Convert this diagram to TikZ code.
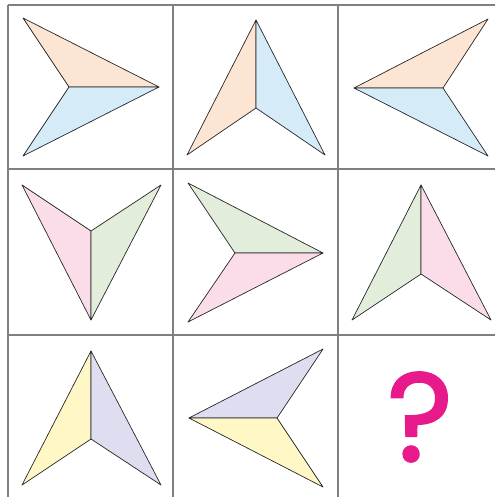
\documentclass[tikz,border=0pt]{standalone}
\usepackage{fontspec}
\newfontfamily\qfont[FakeBold=1.6]{Poppins}
\usetikzlibrary{calc}
\definecolor{peach}{HTML}{FDE5D3}
\definecolor{skyb}{HTML}{D5EBF8}
\definecolor{rose}{HTML}{FBDDE9}
\definecolor{mint}{HTML}{E2EEDB}
\definecolor{lemon}{HTML}{FFF8C6}
\definecolor{lilac}{HTML}{DEDEF0}
\definecolor{qpink}{HTML}{E8198B}
\tikzset{
  gridline/.style={draw=black!50, line width=1.6pt},
  half/.style={draw=black!85, line width=.7pt, line join=round},
}

\begin{document}
\begin{tikzpicture}[x=1pt,y=-1pt]
\useasboundingbox (0,0) rectangle (495,497);
% grid
\draw[gridline](8,5)--(495,5);
\draw[gridline](8,169)--(495,169);
\draw[gridline](8,335)--(495,335);
\draw[gridline](8,5)--(8,497);
\draw[gridline](173,5)--(173,497);
\draw[gridline](338,5)--(338,497);
% row 1
\coordinate (t1) at (159,87);
\coordinate (n1) at (69,87);
\coordinate (u1) at (23,18);
\coordinate (d1) at (23,156);
\filldraw[half,fill=peach](t1)--(n1)--(u1)--cycle;
\filldraw[half,fill=skyb](t1)--(n1)--(d1)--cycle;
\coordinate (t2) at (256,20);
\coordinate (n2) at (256,108);
\coordinate (l2) at (187,155);
\coordinate (r2) at (325,155);
\filldraw[half,fill=peach](t2)--(n2)--(l2)--cycle;
\filldraw[half,fill=skyb](t2)--(n2)--(r2)--cycle;
\coordinate (t3) at (354,88);
\coordinate (n3) at (443,88);
\coordinate (u3) at (488,19);
\coordinate (d3) at (488,156);
\filldraw[half,fill=peach](t3)--(n3)--(u3)--cycle;
\filldraw[half,fill=skyb](t3)--(n3)--(d3)--cycle;
% row 2
\coordinate (t4) at (91,320);
\coordinate (n4) at (91,231);
\coordinate (l4) at (22,185);
\coordinate (r4) at (161,185);
\filldraw[half,fill=rose](t4)--(n4)--(l4)--cycle;
\filldraw[half,fill=mint](t4)--(n4)--(r4)--cycle;
\coordinate (t5) at (323,253);
\coordinate (n5) at (235,253);
\coordinate (u5) at (188,183);
\coordinate (d5) at (188,322);
\filldraw[half,fill=mint](t5)--(n5)--(u5)--cycle;
\filldraw[half,fill=rose](t5)--(n5)--(d5)--cycle;
\coordinate (t6) at (421,185);
\coordinate (n6) at (421,274);
\coordinate (l6) at (352,320);
\coordinate (r6) at (491,320);
\filldraw[half,fill=mint](t6)--(n6)--(l6)--cycle;
\filldraw[half,fill=rose](t6)--(n6)--(r6)--cycle;
% row 3
\coordinate (t7) at (91,351);
\coordinate (n7) at (91,439);
\coordinate (l7) at (22,485);
\coordinate (r7) at (161,485);
\filldraw[half,fill=lemon](t7)--(n7)--(l7)--cycle;
\filldraw[half,fill=lilac](t7)--(n7)--(r7)--cycle;
\coordinate (t8) at (189,418);
\coordinate (n8) at (277,418);
\coordinate (u8) at (323,349);
\coordinate (d8) at (323,487);
\filldraw[half,fill=lilac](t8)--(n8)--(u8)--cycle;
\filldraw[half,fill=lemon](t8)--(n8)--(d8)--cycle;
\node[text=qpink,font=\qfont\fontsize{126}{126}\selectfont,inner sep=2pt] (quest) at (420,417) {?};
\end{tikzpicture}
\end{document}
